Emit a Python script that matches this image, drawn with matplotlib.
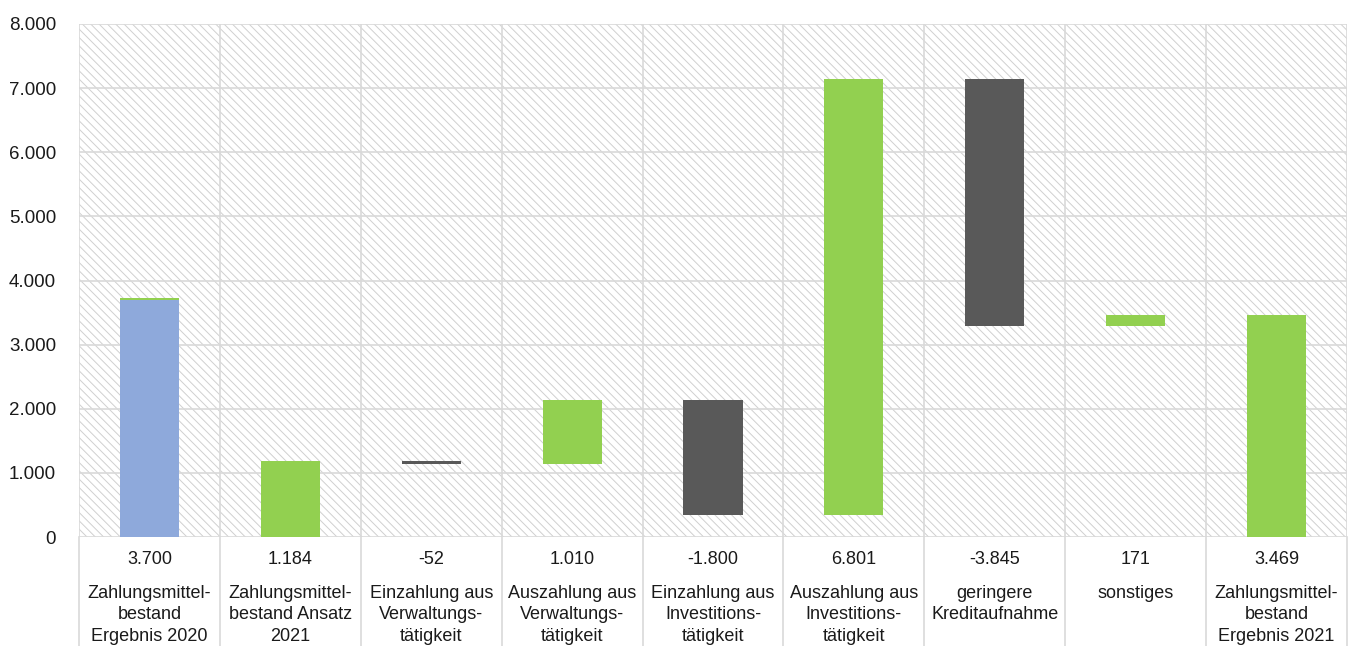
import matplotlib
matplotlib.use("Agg")
import matplotlib.pyplot as plt
from matplotlib.patches import Rectangle
import matplotlib.transforms as mtransforms

categories = [
    "Zahlungsmittel-\nbestand\nErgebnis 2020",
    "Zahlungsmittel-\nbestand Ansatz\n2021",
    "Einzahlung aus\nVerwaltungs-\ntätigkeit",
    "Auszahlung aus\nVerwaltungs-\ntätigkeit",
    "Einzahlung aus\nInvestitions-\ntätigkeit",
    "Auszahlung aus\nInvestitions-\ntätigkeit",
    "geringere\nKreditaufnahme",
    "sonstiges",
    "Zahlungsmittel-\nbestand\nErgebnis 2021",
]
values = [3700, 1184, -52, 1010, -1800, 6801, -3845, 171, 3469]
kinds = ["start", "total", "delta", "delta", "delta", "delta", "delta", "delta", "total"]
top_sliver = [20, 0, 0, 0, 0, 0, 0, 0, 0]
yticks = [0, 1000, 2000, 3000, 4000, 5000, 6000, 7000, 8000]

BLUE = "#8EA9DB"
GREEN = "#92D050"
DARK = "#595959"
GRID = "#d9d9d9"
HATCH = "#d0d0d0"
TXT = "#1a1a1a"

plt.rcParams["font.family"] = ["Liberation Sans", "DejaVu Sans"]
plt.rcParams["hatch.color"] = HATCH
plt.rcParams["hatch.linewidth"] = 0.7

W, H = 1348, 646
fig = plt.figure(figsize=(W / 100, H / 100), dpi=100)
ax = fig.add_axes([79 / W, (H - 537) / H, (1347 - 79) / W, (537 - 24) / H])

# hatched background
ax.add_patch(Rectangle((0, 0), 1, 1, transform=ax.transAxes, facecolor="white",
                       edgecolor=HATCH, linewidth=0, hatch="\\\\\\\\", zorder=0))

# waterfall computation
bottoms, heights, colors = [], [], []
running = 0
for v, k in zip(values, kinds):
    if k == "start":
        bottoms.append(0); heights.append(v); colors.append(BLUE); running = v
    elif k == "total":
        bottoms.append(0); heights.append(v); colors.append(GREEN); running = v
    else:
        if v >= 0:
            bottoms.append(running); heights.append(v); colors.append(GREEN)
        else:
            bottoms.append(running + v); heights.append(-v); colors.append(DARK)
        running += v

x = list(range(len(values)))
ax.bar(x, heights, bottom=bottoms, width=0.42, color=colors, edgecolor="none", zorder=3)
# small green segment on top of first bar
sl_b = [b + h for b, h in zip(bottoms, heights)]
ax.bar(x, top_sliver, bottom=sl_b, width=0.42, color=GREEN, edgecolor="none", zorder=3)

ax.set_xlim(-0.5, len(values) - 0.5)
ax.set_ylim(0, 8000)
ax.set_yticks(yticks)
ax.set_yticklabels([f"{t:,}".replace(",", ".") for t in yticks], fontsize=13.5, color=TXT)
ax.tick_params(axis="y", length=0, pad=16.5)
ax.set_xticks([])

for yv in yticks:
    ax.axhline(yv, color=GRID, lw=1.2, zorder=1)
for b in range(len(values) + 1):
    ax.axvline(b - 0.5, color=GRID, lw=1.2, zorder=1)
for s in ax.spines.values():
    s.set_visible(False)

# table-like area below the axis
trans = mtransforms.blended_transform_factory(ax.transData, fig.transFigure)
for b in range(len(values) + 1):
    ax.plot([b - 0.5, b - 0.5], [0, (H - 537) / H], transform=trans, color=GRID,
            lw=1.2, clip_on=False, zorder=1)

for i, (v, c) in enumerate(zip(values, categories)):
    ax.text(i, (H - 559) / H, f"{v:,}".replace(",", "."), transform=trans,
            ha="center", va="center", fontsize=13, color=TXT)
    ax.text(i, (H - 585) / H, c, transform=trans, ha="center", va="top",
            fontsize=13, color=TXT, linespacing=1.33)

fig.savefig("out.png", dpi=100)
